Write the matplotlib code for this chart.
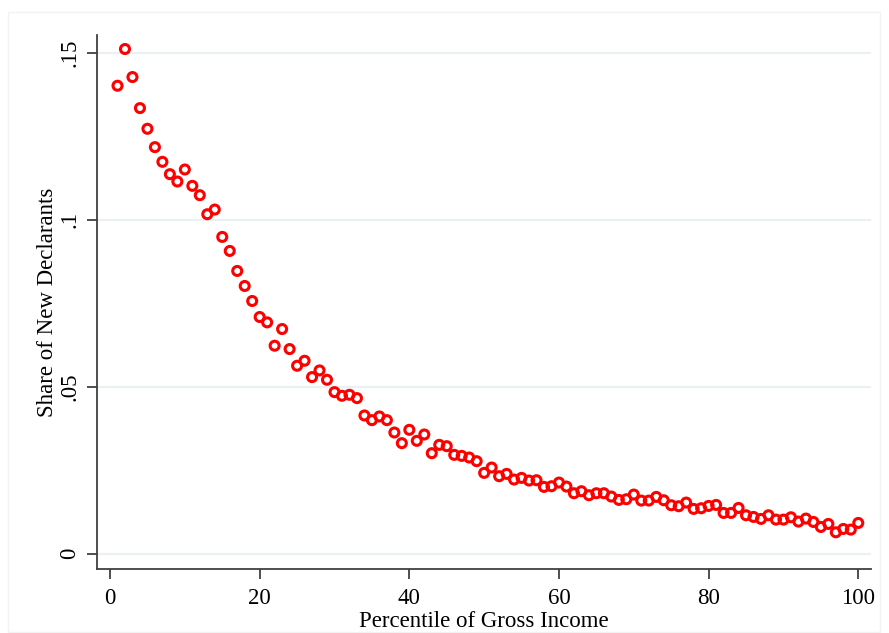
import matplotlib
matplotlib.use("Agg")
import matplotlib.pyplot as plt
import matplotlib.patches as mpatches

# percentile of gross income (1..100) and share of new declarants
percentile = list(range(1, 101))
share = [
    0.1402, 0.1512, 0.1428, 0.1335, 0.1273, 0.1218, 0.1174, 0.1137, 0.1115, 0.1151,
    0.1102, 0.1074, 0.1017, 0.1031, 0.0949, 0.0907, 0.0847, 0.0802, 0.0757, 0.0709,
    0.0693, 0.0623, 0.0673, 0.0613, 0.0563, 0.0578, 0.0529, 0.0549, 0.0521, 0.0484,
    0.0473, 0.0476, 0.0466, 0.0414, 0.0400, 0.0411, 0.0400, 0.0363, 0.0331, 0.0371,
    0.0338, 0.0357, 0.0301, 0.0326, 0.0322, 0.0296, 0.0293, 0.0288, 0.0277, 0.0242,
    0.0258, 0.0232, 0.0239, 0.0222, 0.0227, 0.0219, 0.0220, 0.0200, 0.0202, 0.0213,
    0.0201, 0.0181, 0.0187, 0.0175, 0.0181, 0.0181, 0.0171, 0.0161, 0.0163, 0.0177,
    0.0159, 0.0159, 0.0170, 0.0160, 0.0145, 0.0142, 0.0153, 0.0134, 0.0136, 0.0143,
    0.0146, 0.0122, 0.0122, 0.0137, 0.0115, 0.0110, 0.0104, 0.0115, 0.0102, 0.0102,
    0.0109, 0.0096, 0.0105, 0.0095, 0.0080, 0.0089, 0.0064, 0.0074, 0.0072, 0.0092,
]

x_ticks = [0, 20, 40, 60, 80, 100]
y_ticks = [0, 0.05, 0.10, 0.15]
y_tick_labels = ["0", ".05", ".1", ".15"]

plt.rcParams['font.family'] = ['Liberation Serif', 'DejaVu Serif']

fig = plt.figure(figsize=(8.89, 6.33), dpi=100)
# faint outer frame like the Stata graph region
fig.patches.append(mpatches.Rectangle((8 / 889, 1 - 632 / 633), 872 / 889, 620 / 633,
                                      transform=fig.transFigure, fill=False,
                                      edgecolor='#f2f2f2', linewidth=1))

ax = fig.add_axes([97 / 889, 1 - 569 / 633, 774 / 889, 534 / 633])

ax.scatter(percentile, share, s=42, facecolors='none', edgecolors='#ff0000',
           linewidths=2.2, zorder=3)

ax.set_xlim(-1.74, 101.7)
ax.set_ylim(-0.0046, 0.1554)

ax.set_xticks(x_ticks)
ax.set_yticks(y_ticks)
ax.set_yticklabels(y_tick_labels, rotation=90, va='center')
ax.grid(axis='y', color='#eaf0f4', linewidth=1.6)
ax.set_axisbelow(True)

for side in ['top', 'right']:
    ax.spines[side].set_visible(False)
for side in ['left', 'bottom']:
    ax.spines[side].set_color('#404040')
    ax.spines[side].set_linewidth(1.3)

ax.tick_params(axis='both', direction='out', length=7, width=1.3, color='#404040',
               labelsize=16.5)
ax.tick_params(axis='x', pad=7)
ax.tick_params(axis='y', pad=5)

ax.set_xlabel('Percentile of Gross Income', fontsize=16.5, labelpad=1)
ax.set_ylabel('Share of New Declarants', fontsize=16.5, labelpad=1)

fig.savefig('out.png', dpi=100, facecolor='white')
